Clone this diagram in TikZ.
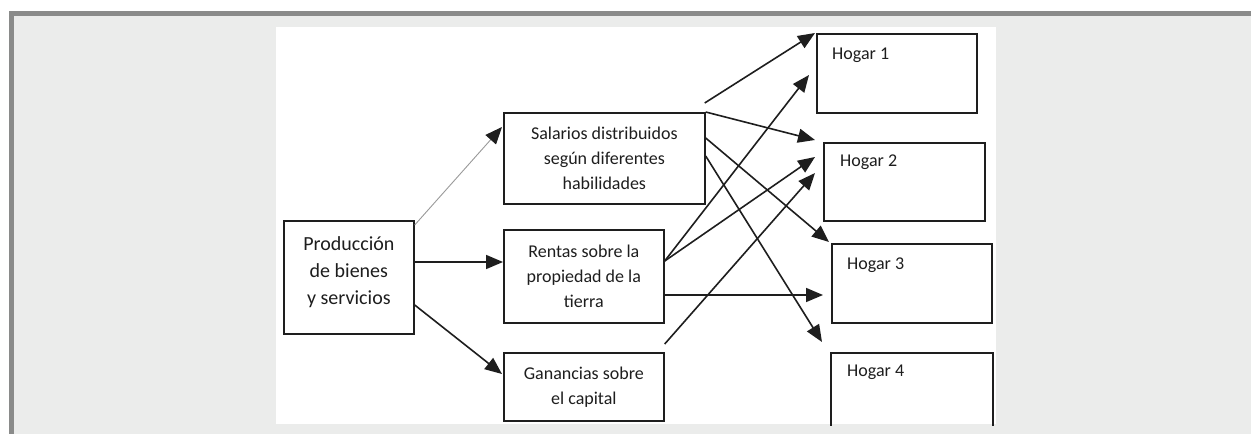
\documentclass[tikz,border=0pt]{standalone}
\usepackage{fontspec}
\setmainfont{Carlito}
\usetikzlibrary{arrows.meta,calc}
\definecolor{band}{HTML}{8A8B8A}
\definecolor{bgl}{HTML}{EBECEB}
\definecolor{ink}{HTML}{1E1E1E}
\definecolor{thin}{HTML}{9A9A9A}
\begin{document}
\begin{tikzpicture}[x=1pt,y=-1pt,
  box/.style={draw=ink, line width=1.7pt, inner sep=0pt, anchor=north west, align=center, text=ink, font=\fontsize{18}{25}\selectfont},
  hlab/.style={anchor=base west, inner sep=0pt, text=ink, font=\fontsize{18}{22}\selectfont},
  arr/.style={draw=ink, line width=1.6pt, -{Triangle[length=17pt,width=14pt]}},
  thinarr/.style={draw=thin, line width=0.9pt, -{Triangle[length=17pt,width=14pt,color=ink]}}]
\useasboundingbox (0,0) rectangle (1251,434);
\fill[white] (0,0) rectangle (1251,434);
\fill[band] (9,11) rectangle (1251,434);
\fill[bgl] (14,16) rectangle (1251,434);
\fill[white] (276,27) rectangle (996,424);

% boxes
\node[box, minimum width=130pt, minimum height=113pt, font=\fontsize{20}{27}\selectfont] (prod) at (283,220)
  {Producción\\de bienes\\y servicios\rule[-13pt]{0pt}{0pt}};
\node[box, minimum width=201pt, minimum height=91pt] (sal) at (503,112)
  {Salarios distribuidos\\según diferentes\\habilidades};
\node[box, minimum width=160pt, minimum height=93pt] (ren) at (503,229)
  {Rentas sobre la\\propiedad de la\\tierra};
\node[box, minimum width=160pt, minimum height=68pt] (gan) at (503,352)
  {Ganancias sobre\\el capital};
\node[box, minimum width=160pt, minimum height=79pt] (h1) at (816,33) {};
\node[box, minimum width=161pt, minimum height=78pt] (h2) at (823,142) {};
\node[box, minimum width=160pt, minimum height=79pt] (h3) at (831,243) {};
\node[box, draw=none, minimum width=160pt, minimum height=71pt] (h4) at (831,353) {};
\draw[draw=ink, line width=1.7pt] (h4.south west) -- (h4.north west) -- (h4.north east) -- (h4.south east);

\node[hlab] (h1t) at ($(h1.north west)+(16,26.6)$) {Hogar 1};
\node[hlab] (h2t) at ($(h2.north west)+(17,24.6)$) {Hogar 2};
\node[hlab] (h3t) at ($(h3.north west)+(16,26.6)$) {Hogar 3};
\node[hlab] (h4t) at ($(h4.north west)+(16,23.6)$) {Hogar 4};

% free start points
\coordinate (s1) at ($(sal.north east)+(-1,-9)$);
\coordinate (s2) at ($(gan.north east)+(0,-8)$);

% connectors from production
\draw[thinarr] ($(prod.north east)+(0,5)$) -- ($(sal.north west)+(-1,15)$);
\draw[arr] ($(prod.north east)+(0,42)$) -- ($(ren.north west)+(0,33)$);
\draw[arr] ($(prod.north east)+(0,85)$) -- ($(gan.north west)+(-1,22)$);

% connectors to households
\draw[arr] (s1) -- ($(h1.north west)+(-1,0)$);
\draw[arr] (sal.north east) -- ($(h2.north west)+(-8,-2)$);
\draw[arr] ($(sal.north east)+(0,26)$) -- ($(h3.north west)+(-2,-1)$);
\draw[arr] ($(sal.north east)+(0,44)$) -- ($(h4.north west)+(-9,-11)$);
\draw[arr] ($(ren.north east)+(0,32)$) -- ($(h1.north west)+(-7,42)$);
\draw[arr] ($(ren.north east)+(0,32)$) -- ($(h2.north west)+(-8,15)$);
\draw[arr] ($(ren.north east)+(0,66)$) -- ($(h3.north west)+(-8,52)$);
\draw[arr] (s2) -- ($(h2.north west)+(-8,31)$);
\end{tikzpicture}
\end{document}
